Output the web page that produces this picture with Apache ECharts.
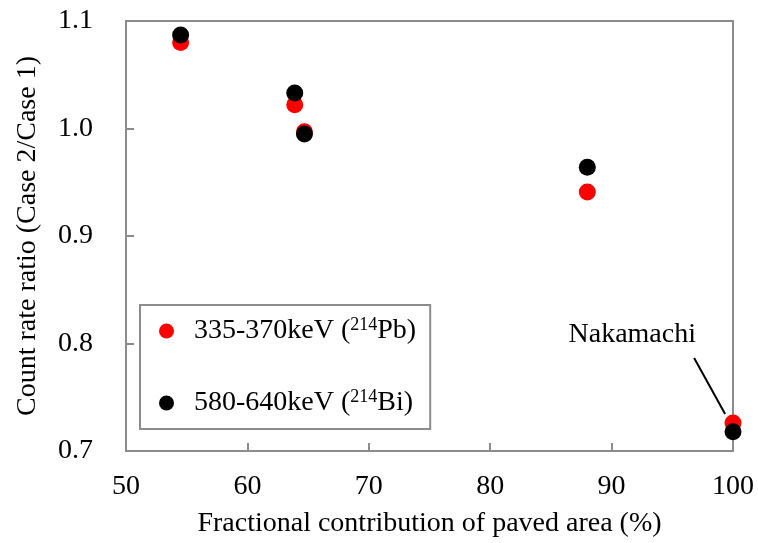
<!DOCTYPE html>
<html>
<head>
<meta charset="utf-8">
<script src="https://cdn.jsdelivr.net/npm/echarts@6/dist/echarts.min.js"></script>
<style>
  html, body { margin: 0; padding: 0; background: #fff; }
  #chart { width: 758px; height: 543px; }
</style>
</head>
<body>
<div id="chart"></div>
<script>
// Fractional contribution of paved area (%) for each site
const pavedFraction = [54.5, 63.9, 64.7, 88.0, 100.0];
// Count rate ratio (Case 2 / Case 1) per energy window
const ratioPb214 = [1.080, 1.022, 0.997, 0.941, 0.726];
const ratioBi214 = [1.087, 1.033, 0.995, 0.964, 0.718];

const seriesNames = ['335-370keV ({sup|214}Pb)', '580-640keV ({sup|214}Bi)'];
const xTicks = { min: 50, max: 100, interval: 10 };
const yTicks = { min: 0.7, max: 1.1, interval: 0.1 };

// Annotation for the Nakamachi site: label anchor and leader line ends (data units)
const nakamachiLabel = [91.7, 0.808];
const nakamachiLeader = [[96.8, 0.7865], [99.35, 0.7345]];

const FONT = '"Liberation Serif", "Times New Roman", serif';
const FS = 28;
const frameColor = '#8c8c8c';

const toPoints = (xs, ys) => xs.map((x, i) => [x, ys[i]]);

const chart = echarts.init(document.getElementById('chart'), null, { renderer: 'canvas' });

chart.setOption({
  animation: false,
  backgroundColor: '#ffffff',
  textStyle: { fontFamily: FONT },
  grid: {
    left: 126, right: 25, top: 21, bottom: 92,
    show: true, borderColor: frameColor, borderWidth: 2, backgroundColor: 'transparent'
  },
  legend: {
    orient: 'vertical',
    left: 140, top: 305,
    padding: [11, 14, 11, 19],
    itemGap: 42,
    itemWidth: 15, itemHeight: 15,
    icon: 'circle',
    borderColor: frameColor, borderWidth: 2,
    backgroundColor: '#fff',
    formatter: name => name,
    textStyle: {
      fontFamily: FONT, fontSize: FS, color: '#000', lineHeight: 30,
      padding: [0, 0, 0, 15],
      rich: {
        sup: { fontFamily: FONT, fontSize: 18, verticalAlign: 'top', padding: [0, 0, 10, 0], color: '#000' }
      }
    },
    data: seriesNames
  },
  xAxis: {
    type: 'value',
    min: xTicks.min, max: xTicks.max, interval: xTicks.interval,
    name: 'Fractional contribution of paved area (%)',
    nameLocation: 'middle', nameGap: 59,
    nameTextStyle: { fontFamily: FONT, fontSize: FS, color: '#000' },
    axisLine: { show: true, lineStyle: { color: frameColor, width: 2 } },
    axisTick: { show: true, inside: true, length: 8, lineStyle: { color: frameColor, width: 2 } },
    axisLabel: { fontFamily: FONT, fontSize: FS, color: '#000', margin: 22 },
    splitLine: { show: false }
  },
  yAxis: {
    type: 'value',
    min: yTicks.min, max: yTicks.max, interval: yTicks.interval,
    name: 'Count rate ratio (Case 2/Case 1)',
    nameLocation: 'middle', nameGap: 84,
    nameTextStyle: { fontFamily: FONT, fontSize: FS, color: '#000' },
    axisLine: { show: true, lineStyle: { color: frameColor, width: 2 } },
    axisTick: { show: true, inside: true, length: 8, lineStyle: { color: frameColor, width: 2 } },
    axisLabel: {
      fontFamily: FONT, fontSize: FS, color: '#000', margin: 33,
      formatter: v => v.toFixed(1)
    },
    splitLine: { show: false }
  },
  series: [
    {
      name: seriesNames[0],
      type: 'scatter',
      symbol: 'circle', symbolSize: 17,
      itemStyle: { color: '#ff0000', opacity: 1 },
      data: toPoints(pavedFraction, ratioPb214),
      markLine: {
        silent: true,
        symbol: ['none', 'none'],
        label: { show: false },
        lineStyle: { color: '#000', width: 2, type: 'solid' },
        data: [[{ coord: nakamachiLeader[0] }, { coord: nakamachiLeader[1] }]]
      },
      markPoint: {
        silent: true,
        symbol: 'circle', symbolSize: 1,
        itemStyle: { color: 'rgba(0,0,0,0)' },
        label: {
          show: true, position: 'inside',
          formatter: 'Nakamachi',
          fontFamily: FONT, fontSize: FS, color: '#000'
        },
        data: [{ coord: nakamachiLabel }]
      }
    },
    {
      name: seriesNames[1],
      type: 'scatter',
      symbol: 'circle', symbolSize: 17,
      itemStyle: { color: '#000000', opacity: 1 },
      data: toPoints(pavedFraction, ratioBi214)
    }
  ]
});
</script>
</body>
</html>
